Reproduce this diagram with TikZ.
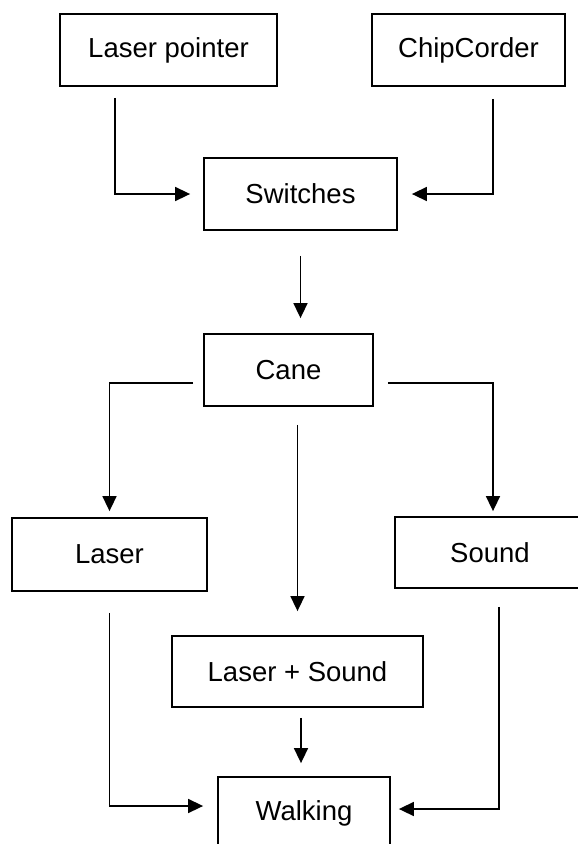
\documentclass[tikz,border=0pt]{standalone}
\usepackage{fontspec}
\setmainfont{Liberation Sans}
\usetikzlibrary{arrows.meta}
\begin{document}
\begin{tikzpicture}[x=1pt,y=-1pt,
  box/.style={draw, line width=1.8pt, minimum width=#1, inner sep=0pt,
    font=\fontsize{27.5}{32}\selectfont},
  link/.style={line width=1.6pt, -{Triangle[length=15pt,width=14pt]}}]
  \clip (0,0) rectangle (578,844);
  \fill[white] (0,0) rectangle (578,844);

  % blocks
  \node[box=217pt, minimum height=72pt] (lp)    at (168.5,50)  {Laser pointer};
  \node[box=193pt, minimum height=72pt] (cc)    at (468.5,50)  {ChipCorder};
  \node[box=193pt, minimum height=72pt] (sw)    at (300.5,194) {Switches};
  \node[box=169pt, minimum height=72pt] (cane)  at (288.5,370) {Cane};
  \node[box=195pt, minimum height=73pt] (laser) at (109.5,554.5) {Laser};
  \node[box=190pt, minimum height=71pt] (sound) at (490,552.5) {Sound};
  \node[box=251pt, minimum height=71pt] (ls)    at (297.5,671.5) {Laser + Sound};
  \node[box=172pt, minimum height=72pt] (walk)  at (304,813)   {Walking};

  % inputs to the switches
  \draw[link, shorten <=11pt, shorten >=13pt]
    ([xshift=-53.5pt]lp.south) |- (sw.west);
  \draw[link, shorten <=12pt, shorten >=14pt]
    ([xshift=24.5pt]cc.south) |- (sw.east);
  \draw[link, shorten <=25pt, shorten >=15pt]
    (sw.south) -- (sw.south |- cane.north);

  % cane modes
  \draw[link, shorten <=10pt, shorten >=6pt]
    ([yshift=-13pt]cane.west) -| (laser.north);
  \draw[link, shorten <=14pt, shorten >=5pt]
    ([yshift=-13pt]cane.east) -| ([xshift=3pt]sound.north);
  \draw[link, shorten <=18pt, shorten >=24pt]
    (cane.south -| ls.north) -- (ls.north);

  % modes to walking
  \draw[link, shorten <=21pt, shorten >=14pt]
    (laser.south) |- ([yshift=7pt]walk.west);
  \draw[link, shorten <=18pt, shorten >=8pt]
    ([xshift=9pt]sound.south) |- ([yshift=4pt]walk.east);
  \draw[link, shorten <=10pt, shorten >=13pt]
    ([xshift=3.5pt]ls.south) -- ([xshift=-3pt]walk.north);
\end{tikzpicture}
\end{document}
